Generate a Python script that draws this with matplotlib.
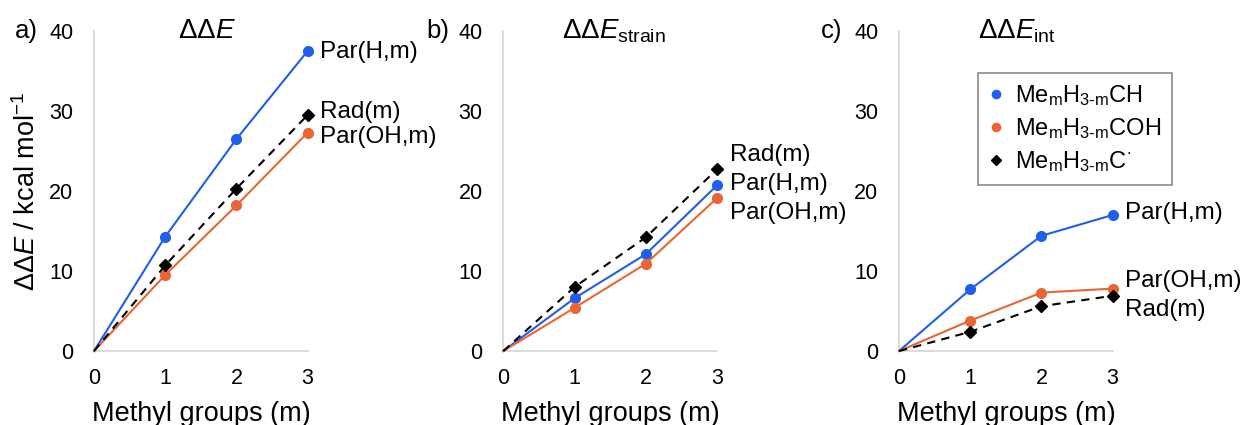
import matplotlib
matplotlib.use("Agg")
import matplotlib.pyplot as plt

plt.rcParams['font.family'] = ['Liberation Sans', 'DejaVu Sans']
plt.rcParams['mathtext.fontset'] = 'custom'
plt.rcParams['mathtext.rm'] = 'Liberation Sans'
plt.rcParams['mathtext.it'] = 'Liberation Sans:italic'
plt.rcParams['mathtext.bf'] = 'Liberation Sans:bold'

# data
methyl = [0, 1, 2, 3]

dE_par_h = [0, 14.3, 26.5, 37.5]
dE_par_oh = [0, 9.5, 18.2, 27.3]
dE_rad = [0, 10.7, 20.3, 29.5]

strain_par_h = [0, 6.6, 12.1, 20.7]
strain_par_oh = [0, 5.4, 10.9, 19.1]
strain_rad = [0, 8.0, 14.2, 22.7]

int_par_h = [0, 7.7, 14.4, 17.0]
int_par_oh = [0, 3.8, 7.3, 7.8]
int_rad = [0, 2.4, 5.6, 6.9]

panel_letters = ['a)', 'b)', 'c)']
panel_titles = [r'$\Delta\Delta \mathit{E}$',
                r'$\Delta\Delta \mathit{E}_{\mathrm{strain}}$',
                r'$\Delta\Delta \mathit{E}_{\mathrm{int}}$']
legend_labels = [r'Me$_{\mathrm{m}}$H$_{\text{3-m}}$CH',
                 r'Me$_{\mathrm{m}}$H$_{\text{3-m}}$COH',
                 r'Me$_{\mathrm{m}}$H$_{\text{3-m}}$C$^{\bullet}$']

BLUE = '#1f5feb'
ORANGE = '#eb6434'
GRID = '#d4d4d4'

panels = [
    (dE_par_h, dE_par_oh, dE_rad),
    (strain_par_h, strain_par_oh, strain_rad),
    (int_par_h, int_par_oh, int_rad),
]
# end-of-line label placement (y in data units), layout only
end_labels = [
    [('Par(H,m)', 37.4), ('Rad(m)', 29.9), ('Par(OH,m)', 26.8)],
    [('Rad(m)', 24.5), ('Par(H,m)', 20.9), ('Par(OH,m)', 17.3)],
    [('Par(H,m)', 17.2), ('Par(OH,m)', 8.7), ('Rad(m)', 5.1)],
]
lefts = [0.0753, 0.4030, 0.7198]
letter_x = [0.012, 0.341, 0.657]
title_x = [0.53, 0.52, 0.55]

fig = plt.figure(figsize=(12.49, 4.25), dpi=100)

for i, (ph, poh, rad) in enumerate(panels):
    ax = fig.add_axes([lefts[i], 0.1741, 0.171, 0.7529])
    ax.plot(methyl, ph, '-', color=BLUE, lw=1.5, marker='o', ms=7,
            clip_on=False, zorder=3, label=legend_labels[0])
    ax.plot(methyl, poh, '-', color=ORANGE, lw=1.5, marker='o', ms=7,
            clip_on=False, zorder=3, label=legend_labels[1])
    ax.plot(methyl, rad, '--', color='black', lw=1.5, marker='D', ms=6,
            dashes=(4, 3), clip_on=False, zorder=3, label=legend_labels[2])
    # lines start at the origin without a point
    for ln in ax.lines:
        ln.set_markevery([1, 2, 3])

    ax.set_xlim(0, 3)
    ax.set_ylim(0, 40)
    ax.set_xticks([0, 1, 2, 3])
    ax.set_yticks([0, 10, 20, 30, 40])
    ax.tick_params(length=0, labelsize=15.5)
    ax.tick_params(axis='y', pad=15)
    ax.tick_params(axis='x', pad=12)
    for s in ['top', 'right']:
        ax.spines[s].set_visible(False)
    for s in ['left', 'bottom']:
        ax.spines[s].set_color(GRID)
        ax.spines[s].set_linewidth(1.2)

    ax.set_xlabel('Methyl groups (m)', fontsize=19.5, labelpad=9)
    if i == 0:
        ax.set_ylabel(r'$\Delta\Delta \mathit{E}$ / kcal mol$^{-1}$',
                      fontsize=19.5, labelpad=6)

    ax.text(title_x[i], 1.0, panel_titles[i], transform=ax.transAxes,
            ha='center', va='center', fontsize=20)
    fig.text(letter_x[i], 0.927, panel_letters[i], ha='left', va='center',
             fontsize=18.5)

    for txt, y in end_labels[i]:
        ax.text(3.18, y, txt, ha='left', va='center', fontsize=17.5,
                clip_on=False)

    if i == 2:
        leg = ax.legend(loc='upper left', bbox_to_anchor=(0.37, 0.87),
                        fontsize=17, frameon=True, fancybox=False,
                        handlelength=0.6, handletextpad=0.5,
                        borderpad=0.45, labelspacing=0.35,
                        markerscale=0.85, borderaxespad=0)
        leg.get_frame().set_edgecolor('#6e6e6e')
        leg.get_frame().set_linewidth(1.2)
        for h in leg.legend_handles:
            h.set_linestyle('none')

fig.savefig('out.png', dpi=100)
